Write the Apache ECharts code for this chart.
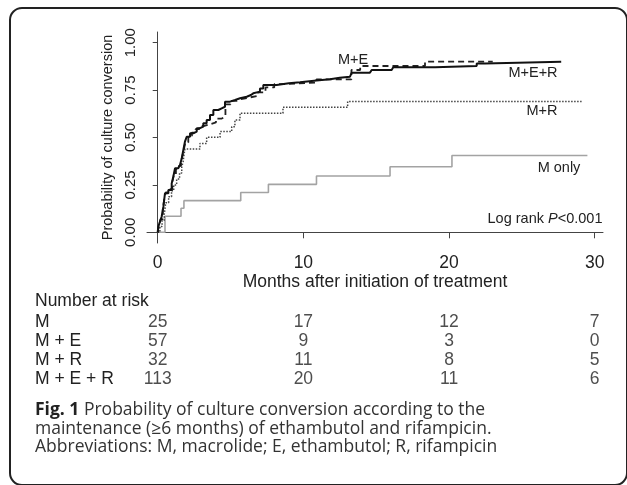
<!DOCTYPE html>
<html>
<head>
<meta charset="utf-8">
<script src="https://cdn.jsdelivr.net/npm/echarts@6/dist/echarts.min.js"></script>
<style>
html, body { margin: 0; padding: 0; background: #fff; }
#chart { width: 627px; height: 485px; }
</style>
</head>
<body>
<div id="chart"></div>
<script>
// Kaplan-Meier step points: [months, probability of conversion]
const curveMOnly = [
    [0, 0], [0.5, 0.085], [1.6, 0.127], [1.8, 0.167], [5.7, 0.21], [7.6, 0.253],
    [10.9, 0.297], [15.95, 0.346], [20.2, 0.405], [29.5, 0.405]
];
const curveMR = [
    [0, 0], [0.15, 0.031], [0.3, 0.063], [0.45, 0.094], [0.55, 0.156], [0.75, 0.188],
    [0.95, 0.219], [1.1, 0.25], [1.3, 0.281], [1.5, 0.313], [1.65, 0.344], [1.75, 0.375],
    [1.8, 0.406], [1.87, 0.439], [2.9, 0.469], [3.36, 0.501], [4.28, 0.531], [5.08, 0.557],
    [5.3, 0.592], [5.65, 0.628], [8.6, 0.659], [13.04, 0.69], [29.1, 0.69]
];
const curveME = [
    [0, 0], [0.08, 0.035], [0.2, 0.07], [0.35, 0.123], [0.45, 0.175], [0.55, 0.21],
    [0.8, 0.228], [1.0, 0.263], [1.1, 0.3], [1.25, 0.333], [1.45, 0.35], [1.6, 0.368],
    [1.7, 0.404], [1.8, 0.439], [1.9, 0.474], [2.1, 0.509], [2.35, 0.526], [2.6, 0.544],
    [2.85, 0.561], [3.2, 0.57], [3.6, 0.58], [4.0, 0.6], [4.4, 0.61], [4.65, 0.675],
    [5.0, 0.693], [5.4, 0.702], [5.7, 0.711], [6.3, 0.72], [6.9, 0.738], [7.4, 0.764],
    [8.0, 0.781], [8.7, 0.79], [10.9, 0.807], [13.3, 0.856], [13.9, 0.877], [18.35, 0.9],
    [23, 0.9]
];
const curveMER = [
    [0, 0], [0.04, 0.03], [0.15, 0.055], [0.27, 0.082], [0.39, 0.135], [0.5, 0.206],
    [0.73, 0.223], [0.96, 0.258], [1.07, 0.293], [1.19, 0.338], [1.41, 0.346], [1.53, 0.355],
    [1.65, 0.39], [1.76, 0.434], [1.87, 0.478], [1.99, 0.504], [2.22, 0.522], [2.44, 0.531],
    [2.68, 0.549], [2.9, 0.557], [3.13, 0.575], [3.36, 0.592], [3.59, 0.619], [3.82, 0.645],
    [4.16, 0.654], [4.39, 0.662], [4.62, 0.689], [4.96, 0.698], [5.31, 0.707], [5.65, 0.715],
    [6.11, 0.724], [6.4, 0.733], [6.56, 0.742], [7.02, 0.759], [7.25, 0.777], [8.17, 0.786],
    [9.0, 0.791], [9.77, 0.8], [10.9, 0.807], [11.83, 0.815], [12.5, 0.821], [13.2, 0.83],
    [13.32, 0.842], [14.57, 0.847], [14.69, 0.856], [16.06, 0.862], [16.17, 0.87],
    [19.04, 0.877], [21.9, 0.89], [22.47, 0.9], [27.7, 0.9]
];

const xTicks = [0, 10, 20, 30];
const yTicks = [0, 0.25, 0.5, 0.75, 1];

// number at risk table
const riskTimes = [0, 10, 20, 30];
const riskGroups = ['M', 'M + E', 'M + R', 'M + E + R'];
const riskM = [25, 17, 12, 7];
const riskME = [57, 9, 3, 0];
const riskMR = [32, 11, 8, 5];
const riskMER = [113, 20, 11, 6];

const riskRows = [riskM, riskME, riskMR, riskMER];
const riskData = [];
riskRows.forEach((row, i) => {
    row.forEach((n, j) => riskData.push([riskTimes[j], riskGroups[i], n]));
});

const FONT = "'Liberation Sans', Arial, sans-serif";
const CAPFONT = "'Open Sans', sans-serif";
const TXT = '#222';

const chart = echarts.init(document.getElementById('chart'));
chart.setOption({
    animation: false,
    grid: [
        { left: 147, right: 24, top: 32, bottom: 242 },
        { left: 147, right: 24, top: 313, height: 76 }
    ],
    xAxis: [{
        type: 'value',
        min: -0.735,
        max: 30.57,
        name: 'Months after initiation of treatment',
        nameLocation: 'middle',
        nameGap: 28,
        nameTextStyle: { color: TXT, fontSize: 17.5, fontFamily: FONT },
        axisLine: { lineStyle: { color: '#444', width: 1 } },
        axisTick: { customValues: xTicks, length: 6, lineStyle: { color: '#444' } },
        axisLabel: { customValues: xTicks, margin: 11, color: TXT, fontSize: 17.5, fontFamily: FONT },
        splitLine: { show: false }
    }, {
        type: 'value',
        gridIndex: 1,
        min: -0.735,
        max: 30.57,
        show: false
    }],
    yAxis: [{
        type: 'value',
        min: -0.0564,
        max: 1.0564,
        name: 'Probability of culture conversion',
        nameLocation: 'middle',
        nameGap: 28,
        nameTextStyle: { color: TXT, fontSize: 14.5, fontFamily: FONT },
        axisLine: { show: true, lineStyle: { color: '#444', width: 1 } },
        axisTick: { show: true, customValues: yTicks, length: 5, lineStyle: { color: '#444' } },
        axisLabel: {
            customValues: yTicks,
            rotate: 90,
            margin: 9,
            color: TXT,
            fontSize: 15,
            fontFamily: FONT,
            formatter: v => v.toFixed(2)
        },
        splitLine: { show: false }
    }, {
        type: 'category',
        gridIndex: 1,
        data: riskGroups,
        inverse: true,
        axisLine: { show: false },
        axisTick: { show: false },
        axisLabel: { interval: 0, align: 'left', margin: 112, color: TXT, fontSize: 17.5, fontFamily: FONT }
    }],
    graphic: [
        {
            type: 'rect',
            shape: { x: 10, y: 8, width: 617, height: 477, r: 12 },
            style: { fill: 'none', stroke: '#222', lineWidth: 2 }
        },
        { type: 'text', left: 35, top: 292, style: { text: 'Number at risk', fill: TXT, font: '17.5px ' + FONT } },
        { type: 'text', x: 353, y: 60, style: { text: 'M+E', fill: TXT, font: '14.5px ' + FONT, align: 'center', verticalAlign: 'middle' } },
        { type: 'text', x: 533, y: 73, style: { text: 'M+E+R', fill: TXT, font: '14.5px ' + FONT, align: 'center', verticalAlign: 'middle' } },
        { type: 'text', x: 542, y: 111, style: { text: 'M+R', fill: TXT, font: '14.5px ' + FONT, align: 'center', verticalAlign: 'middle' } },
        { type: 'text', x: 559, y: 168, style: { text: 'M only', fill: TXT, font: '14.5px ' + FONT, align: 'center', verticalAlign: 'middle' } },
        {
            type: 'text', x: 545, y: 219,
            style: {
                text: '{n|Log rank }{i|P}{n|<0.001}',
                align: 'center', verticalAlign: 'middle',
                rich: {
                    n: { fill: TXT, fontSize: 14.5, fontFamily: FONT },
                    i: { fill: TXT, fontSize: 14.5, fontFamily: FONT, fontStyle: 'italic' }
                }
            }
        },
        {
            type: 'text', left: 35, top: 401,
            style: {
                text: '{b|Fig. 1} Probability of culture conversion according to the\nmaintenance (≥6 months) of ethambutol and rifampicin.\nAbbreviations: M, macrolide; E, ethambutol; R, rifampicin',
                fill: '#333',
                fontSize: 17.5,
                fontFamily: CAPFONT,
                lineHeight: 18.5,
                rich: {
                    b: { fontWeight: 'bold', fontSize: 17.5, fontFamily: CAPFONT, fill: '#222', lineHeight: 18.5 }
                }
            }
        }
    ],
    series: [
        {
            name: 'M only', type: 'line', step: 'end', data: curveMOnly,
            showSymbol: false, symbol: 'none',
            lineStyle: { color: '#a3a3a3', width: 1.6 }
        },
        {
            name: 'M+R', type: 'line', step: 'end', data: curveMR,
            showSymbol: false, symbol: 'none',
            lineStyle: { color: '#444', width: 1.5, type: [1.5, 1.5] }
        },
        {
            name: 'M+E', type: 'line', step: 'end', data: curveME,
            showSymbol: false, symbol: 'none',
            lineStyle: { color: '#222', width: 1.8, type: [6, 4] }
        },
        {
            name: 'M+E+R', type: 'line', step: 'end', data: curveMER,
            showSymbol: false, symbol: 'none',
            lineStyle: { color: '#111', width: 2 }
        },
        {
            name: 'Number at risk', type: 'scatter', xAxisIndex: 1, yAxisIndex: 1,
            data: riskData, symbolSize: 0,
            label: {
                show: true, position: 'inside', formatter: p => p.value[2],
                color: TXT, fontSize: 17.5, fontFamily: FONT
            }
        }
    ]
});
</script>
</body>
</html>
